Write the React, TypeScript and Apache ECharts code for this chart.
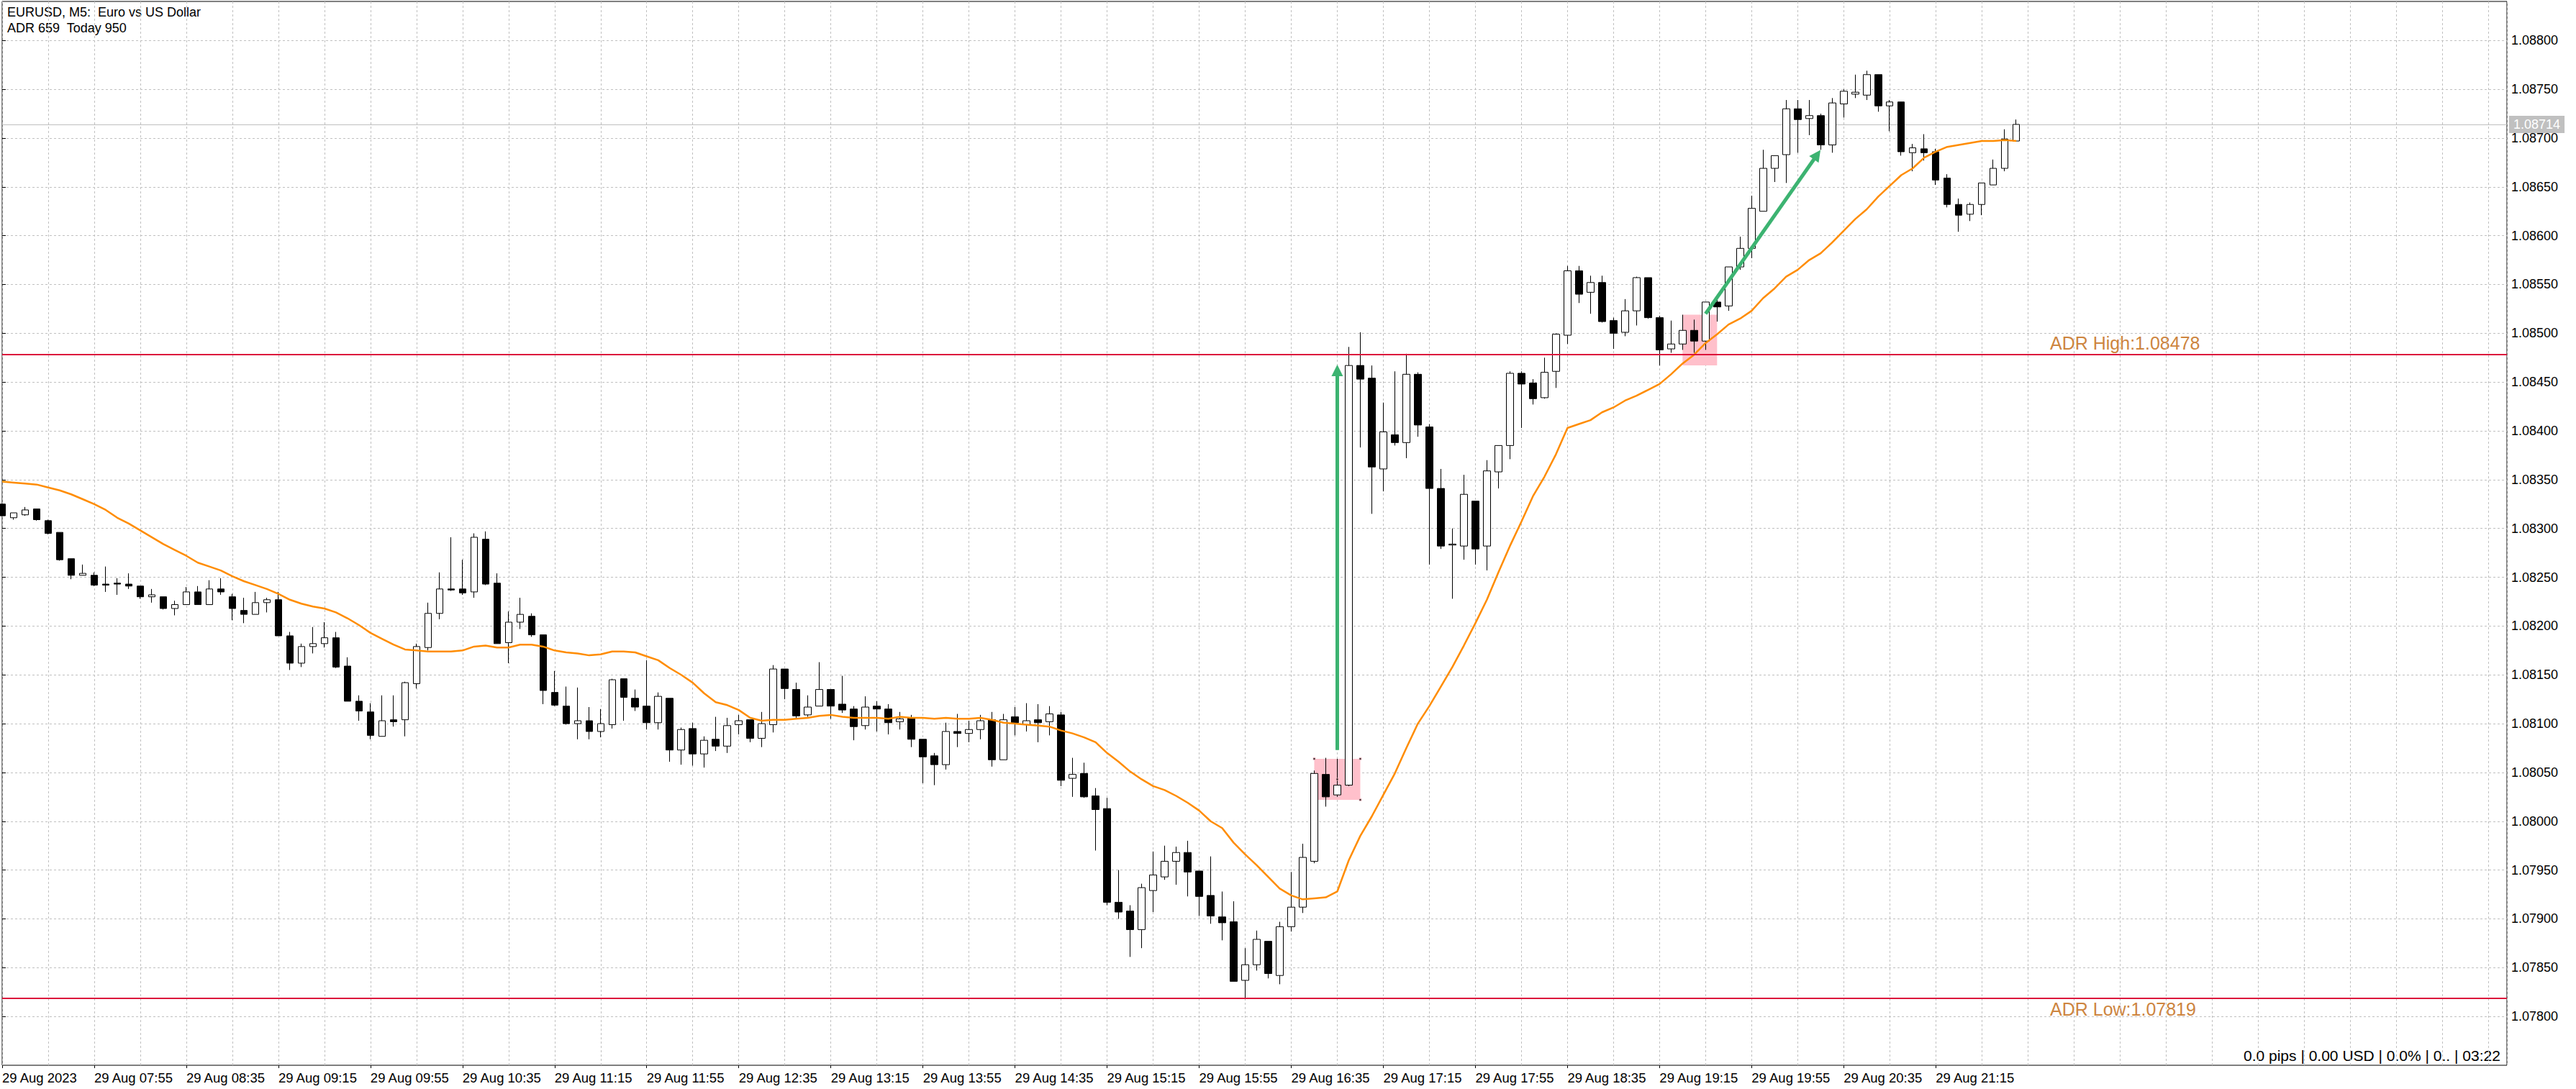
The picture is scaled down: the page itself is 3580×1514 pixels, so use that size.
import { useEffect, useRef } from 'react'
import * as echarts from 'echarts'

// all quotes are in points above 1.08000
const opens = [
  325, 311, 314, 320, 308, 296, 269, 252, 252, 243,
  244, 243, 241, 230, 230, 218, 222, 235, 222, 238,
  230, 216, 212, 224, 227, 190, 162, 179, 182, 188,
  159, 123, 112, 87, 104, 104, 141, 178, 213, 238,
  238, 235, 289, 244, 183, 204, 210, 191, 132, 118,
  100, 103, 92, 99, 146, 126, 118, 101, 126, 73,
  95, 69, 84, 77, 99, 104, 85, 99, 156, 135,
  109, 118, 135, 120, 115, 98, 118, 115, 102, 106,
  84, 67, 58, 92, 90, 94, 104, 63, 107, 99,
  104, 102, 109, 44, 49, 26, 13, -83, -92, -111,
  -71, -57, -41, -32, -51, -76, -98, -103, -163, -147,
  -123, -158, -108, -88, -41, 48, 27, 37, 467, 454,
  361, 396, 388, 458, 404, 341, 283, 282, 328, 282,
  358, 385, 459, 449, 434, 461, 498, 564, 542, 552,
  513, 501, 523, 557, 516, 484, 489, 503, 492, 532,
  528, 568, 587, 625, 669, 683, 730, 720, 723, 693,
  735, 745, 744, 765, 733, 737, 685, 689, 686, 659,
  632, 622, 632, 652, 669, 697,
]
const closes = [
  313, 316, 319, 309, 295, 268, 252, 254, 242, 242,
  243, 241, 230, 232, 218, 222, 235, 222, 238, 235,
  218, 212, 224, 227, 190, 162, 179, 182, 188, 158,
  123, 113, 88, 103, 102, 142, 179, 213, 238, 237,
  234, 291, 243, 182, 204, 212, 191, 134, 119, 100,
  103, 92, 100, 145, 127, 117, 101, 128, 73, 94,
  69, 83, 77, 98, 103, 85, 100, 156, 136, 108,
  117, 135, 118, 114, 97, 117, 115, 101, 105, 84,
  66, 58, 92, 90, 94, 103, 63, 104, 101, 103,
  101, 110, 42, 48, 25, 12, -83, -93, -111, -68,
  -55, -41, -32, -52, -77, -97, -104, -164, -147, -121,
  -156, -108, -88, -37, 49, 25, 37, 467, 453, 363,
  399, 388, 458, 406, 341, 282, 284, 335, 279, 359,
  385, 459, 448, 433, 460, 499, 564, 540, 552, 512,
  500, 523, 557, 516, 483, 489, 503, 492, 532, 527,
  568, 587, 628, 669, 682, 730, 719, 723, 693, 736,
  748, 747, 765, 733, 737, 686, 690, 685, 657, 632,
  621, 632, 654, 669, 699, 714,
]
const lows = [
  313, 309, 313, 308, 294, 267, 248, 252, 241, 235,
  232, 238, 228, 224, 217, 211, 222, 222, 222, 232,
  206, 203, 212, 214, 190, 155, 158, 172, 178, 157,
  123, 103, 84, 87, 97, 87, 136, 175, 207, 236,
  232, 229, 242, 182, 162, 197, 189, 120, 118, 99,
  84, 84, 86, 95, 103, 113, 94, 94, 61, 58,
  57, 55, 72, 70, 89, 81, 76, 91, 125, 106,
  107, 118, 105, 111, 83, 94, 92, 89, 94, 76,
  39, 37, 53, 76, 81, 84, 56, 63, 88, 92,
  81, 88, 36, 25, 24, -30, -86, -100, -139, -130,
  -93, -60, -65, -77, -97, -105, -122, -164, -181, -153,
  -161, -167, -113, -94, -43, 15, 25, 36, 383, 315,
  338, 385, 372, 394, 263, 279, 228, 268, 263, 257,
  341, 371, 403, 427, 433, 444, 489, 531, 520, 511,
  484, 497, 508, 515, 467, 480, 483, 480, 483, 512,
  523, 565, 577, 625, 655, 654, 685, 703, 688, 685,
  721, 741, 739, 727, 707, 682, 666, 677, 652, 629,
  604, 615, 621, 652, 666, 697,
]
const highs = [
  325, 316, 322, 320, 309, 296, 269, 263, 255, 261,
  249, 254, 241, 238, 230, 226, 240, 241, 247, 249,
  233, 229, 235, 229, 235, 194, 182, 199, 204, 194,
  168, 129, 121, 129, 129, 143, 182, 224, 255, 291,
  268, 295, 297, 254, 215, 229, 213, 191, 154, 138,
  137, 117, 115, 146, 146, 135, 165, 132, 126, 96,
  101, 87, 107, 106, 109, 104, 112, 160, 156, 142,
  129, 163, 135, 149, 118, 128, 123, 120, 112, 109,
  84, 70, 101, 110, 103, 109, 112, 110, 117, 121,
  120, 118, 112, 65, 60, 34, 24, -50, -86, -64,
  -31, -25, -26, -20, -51, -36, -72, -82, -130, -112,
  -123, -103, -52, -23, 52, 65, 64, 486, 501, 467,
  429, 461, 479, 460, 407, 361, 300, 355, 328, 370,
  385, 461, 461, 453, 475, 500, 569, 569, 559, 559,
  516, 535, 558, 557, 518, 513, 519, 514, 532, 536,
  568, 599, 641, 688, 682, 739, 739, 739, 725, 741,
  750, 765, 769, 765, 739, 737, 694, 704, 689, 663,
  638, 634, 654, 678, 709, 719,
]
const movingAverage = [
  348, 347, 346, 345, 342, 339, 335, 330, 325, 319,
  311, 305, 298, 291, 284, 278, 272, 265, 261, 257,
  251, 246, 242, 238, 233, 227, 223, 220, 218, 214,
  208, 201, 193, 187, 181, 176, 175, 174, 174, 174,
  175, 179, 180, 178, 178, 181, 181, 179, 175, 173,
  172, 170, 171, 174, 174, 173, 169, 165, 157, 150,
  142, 131, 122, 119, 114, 106, 103, 104, 104, 105,
  106, 108, 109, 107, 106, 106, 106, 105, 107, 106,
  106, 105, 106, 105, 105, 106, 104, 101, 100, 99,
  98, 97, 93, 90, 86, 81, 70, 61, 51, 43,
  36, 32, 26, 19, 11, 0, -7, -22, -34, -45,
  -57, -69, -76, -80, -79, -78, -72, -40, -15, 5,
  27, 49, 75, 100, 118, 138, 158, 180, 203, 227,
  255, 282, 307, 333, 353, 376, 403, 407, 411, 419,
  424, 431, 436, 442, 448, 458, 469, 478, 490, 499,
  509, 515, 523, 536, 546, 558, 565, 575, 582, 593,
  605, 617, 627, 640, 651, 662, 669, 680, 686, 691,
  693, 695, 697, 697, 698, 697,
]
const timeLabels = [
  '29 Aug 2023', '29 Aug 07:55', '29 Aug 08:35', '29 Aug 09:15', '29 Aug 09:55', '29 Aug 10:35',
  '29 Aug 11:15', '29 Aug 11:55', '29 Aug 12:35', '29 Aug 13:15', '29 Aug 13:55', '29 Aug 14:35',
  '29 Aug 15:15', '29 Aug 15:55', '29 Aug 16:35', '29 Aug 17:15', '29 Aug 17:55', '29 Aug 18:35',
  '29 Aug 19:15', '29 Aug 19:55', '29 Aug 20:35', '29 Aug 21:15',
]
const priceTicks = [
  1.078, 1.0785, 1.079, 1.0795, 1.08, 1.0805, 1.081, 1.0815, 1.082, 1.0825, 1.083,
  1.0835, 1.084, 1.0845, 1.085, 1.0855, 1.086, 1.0865, 1.087, 1.0875, 1.088,
]
const adrHigh = 1.08478
const adrLow = 1.07819
const lastPrice = 1.08714
const BARS_PER_LABEL = 8
const BARS_VISIBLE = 217.625

const price = (points: number) => +(1.08 + points / 100000).toFixed(5)
const labelBars = timeLabels.map((_, i) => i * BARS_PER_LABEL)
const textFont = '"Liberation Sans", Arial, sans-serif'

export default function App() {
  const ref = useRef<HTMLDivElement | null>(null)

  useEffect(() => {
    if (!ref.current) return
    const chart = echarts.init(ref.current, undefined, { renderer: 'svg' })
    chart.setOption({
      animation: false,
      backgroundColor: '#fff',
      textStyle: { fontFamily: textFont },
      grid: {
        show: true, left: 2, top: 2, width: 3482, height: 1479,
        borderColor: '#000', borderWidth: 1, backgroundColor: '#fff',
      },
      xAxis: [
        {
          type: 'value', min: 0, max: BARS_VISIBLE, interval: 4,
          axisLine: { show: false }, axisTick: { show: false }, axisLabel: { show: false },
          splitLine: { show: true, lineStyle: { color: '#c0c0c0', type: [3, 3], width: 1 } },
        },
        {
          type: 'value', min: 0, max: BARS_VISIBLE, position: 'bottom',
          axisLine: { show: false },
          splitLine: { show: false },
          axisTick: { show: true, length: 4, customValues: labelBars, lineStyle: { color: '#000' } },
          axisLabel: {
            show: true, customValues: labelBars, align: 'left', margin: 8,
            color: '#000', fontSize: 18.5, fontFamily: textFont,
            formatter: (v: number) => timeLabels[v / BARS_PER_LABEL] ?? '',
          },
        },
      ],
      yAxis: {
        type: 'value', position: 'right', min: 1.0775, max: 1.0884, interval: 0.0005,
        axisLine: { show: false },
        axisTick: { show: true, length: 5, customValues: priceTicks, lineStyle: { color: '#000' } },
        axisLabel: {
          show: true, customValues: priceTicks, margin: 6,
          color: '#000', fontSize: 18, fontFamily: textFont,
          formatter: (v: number) => v.toFixed(5),
        },
        splitLine: { show: true, lineStyle: { color: '#c0c0c0', type: [3, 3], width: 1 } },
      },
      series: [
        {
          // last price line and the two pink boxes sit behind the candles
          type: 'line', data: [], silent: true,
          markLine: {
            silent: true, symbol: 'none', z: 1, precision: 5,
            lineStyle: { color: '#c0c0c0', width: 1, type: 'solid' },
            label: {
              show: true, position: 'end', distance: 3, formatter: lastPrice.toFixed(5),
              color: '#fff', backgroundColor: '#c0c0c0', padding: [3, 6],
              fontSize: 18, fontFamily: textFont,
            },
            data: [{ yAxis: lastPrice }],
          },
          markArea: {
            silent: true,
            itemStyle: { color: '#ffc0cb' },
            data: [
              [{ coord: [114, price(64)] }, { coord: [118, price(22)] }],
              [{ coord: [146, price(519)] }, { coord: [149, price(467)] }],
            ],
          },
        },
        {
          type: 'candlestick',
          barWidth: 10,
          encode: { x: 0, y: [1, 2, 3, 4] },
          itemStyle: {
            color: '#fff', color0: '#000',
            borderColor: '#000', borderColor0: '#000', borderColorDoji: '#000',
            borderWidth: 1,
          },
          data: opens.map((o, i) => [i, price(o), price(closes[i]), price(lows[i]), price(highs[i])]),
        },
        {
          type: 'line', z: 3, showSymbol: false, silent: true,
          lineStyle: { color: '#ff8c00', width: 2.5 },
          data: movingAverage.map((v, i) => [i, price(v)]),
          markLine: {
            silent: true, symbol: 'none', z: 4, precision: 5,
            lineStyle: { color: '#dc143c', width: 2, type: 'solid' },
            label: { show: false },
            data: [{ yAxis: adrHigh }, { yAxis: adrLow }],
          },
        },
        {
          // the two green arrows
          type: 'line', data: [], silent: true, z: 5,
          markLine: {
            silent: true, z: 5, precision: 5,
            symbol: ['none', 'triangle'], symbolSize: 16,
            lineStyle: { color: '#3cb371', width: 5, type: 'solid', opacity: 1 },
            label: { show: false },
            data: [
              [{ coord: [116, price(73)] }, { coord: [116, price(462)] }],
              [{ coord: [148, price(520)] }, { coord: [157.7, price(683)] }],
            ],
          },
        },
        {
          // handles of the selected box
          type: 'scatter', silent: true, z: 6,
          symbol: 'rect', symbolSize: 3,
          itemStyle: { color: '#000', borderColor: '#ffc0cb', borderWidth: 1 },
          data: [[114, price(64)], [118, price(64)], [118, price(22)], [116, price(43)]],
        },
      ],
      graphic: [
        { type: 'text', x: 10, y: 8, style: { text: 'EURUSD, M5:  Euro vs US Dollar', fill: '#000', font: `18px ${textFont}` } },
        { type: 'text', x: 10, y: 30, style: { text: 'ADR 659  Today 950', fill: '#000', font: `18px ${textFont}` } },
        { type: 'text', x: 2849, y: 464, style: { text: `ADR High:${adrHigh.toFixed(5)}`, fill: '#cd853f', font: `25px ${textFont}` } },
        { type: 'text', x: 2849, y: 1390, style: { text: `ADR Low:${adrLow.toFixed(5)}`, fill: '#cd853f', font: `25px ${textFont}` } },
        { type: 'text', x: 3118, y: 1457, style: { text: '0.0 pips | 0.00 USD | 0.0% | 0.. | 03:22', fill: '#000', font: `21px ${textFont}` } },
      ],
    })
    return () => chart.dispose()
  }, [])

  return <div ref={ref} style={{ position: 'fixed', left: 0, top: 0, width: 3580, height: 1514 }} />
}
